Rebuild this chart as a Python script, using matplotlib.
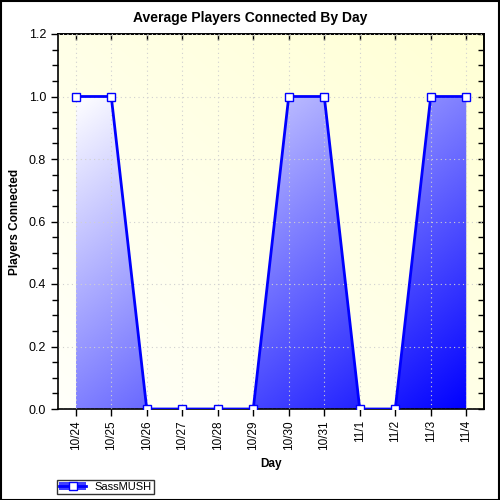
import numpy as np
import matplotlib
matplotlib.use("Agg")
import matplotlib.pyplot as plt
from matplotlib.lines import Line2D
from matplotlib.patches import Patch, Rectangle
from matplotlib.ticker import MultipleLocator, FormatStrFormatter, NullFormatter

days = ["10/24", "10/25", "10/26", "10/27", "10/28", "10/29",
        "10/30", "10/31", "11/1", "11/2", "11/3", "11/4"]
players = [1, 1, 0, 0, 0, 0, 1, 1, 0, 0, 1, 1]
series_name = "SassMUSH"

plt.rcParams['font.family'] = ['Liberation Sans', 'DejaVu Sans']

fig = plt.figure(figsize=(5, 5), dpi=100)
ax = fig.add_axes([0.116, 0.182, 0.852, 0.750])

x = np.arange(len(days))
y = np.array(players, dtype=float)
ax.set_xlim(-0.5, len(days) - 0.5)
ax.set_ylim(0, 1.2)

# background gradient (whitish bottom-left -> light yellow top-right)
gx, gy = np.meshgrid(np.linspace(0, 1, 200), np.linspace(0, 1, 200))
t = (gx + gy) / 2
bg = np.zeros((200, 200, 3))
bg[..., 0] = 1.0
bg[..., 1] = 1.0
bg[..., 2] = (250 - t * 38) / 255
ax.imshow(bg, extent=[-0.5, len(days) - 0.5, 0, 1.2], origin='lower',
          aspect='auto', zorder=0)

# area gradient (white top-left -> blue bottom-right)
poly = ax.fill_between(x, y, 0, color='none', lw=0, zorder=2)
t2 = (gx + (1 - gy)) / 2
fg = np.zeros((200, 200, 3))
fg[..., 0] = 1 - t2
fg[..., 1] = 1 - t2
fg[..., 2] = 1.0
im = ax.imshow(fg, extent=[x[0], x[-1], 0, y.max()], origin='lower',
               aspect='auto', zorder=2)
path = poly.get_paths()[0]
im.set_clip_path(path, transform=ax.transData)

ax.grid(True, which='major', color='#d0d0d0', linestyle=(0, (1, 3)), lw=0.8, zorder=1)
ax.set_axisbelow(False)

ax.plot(x, y, color='#0000ff', lw=2, zorder=3,
        marker='s', markersize=6, markerfacecolor='white',
        markeredgecolor='#0000ff', markeredgewidth=1.0)

ax.set_xticks(x)
ax.set_xticklabels(days, rotation=90, fontsize=8.5)
ax.yaxis.set_major_locator(MultipleLocator(0.2))
ax.yaxis.set_minor_locator(MultipleLocator(0.05))
ax.yaxis.set_major_formatter(FormatStrFormatter('%.1f'))
ax.tick_params(axis='y', labelsize=9)
ax.tick_params(axis='x', direction='out', length=5, width=1, pad=3)
ax.tick_params(axis='y', which='major', direction='out', length=5, width=1)
ax.tick_params(axis='y', which='minor', direction='out', length=4, width=1)

# inward ticks on top and right
top = ax.secondary_xaxis('top')
top.set_xticks(x)
top.xaxis.set_major_formatter(NullFormatter())
top.tick_params(direction='in', length=4, width=1)
right = ax.secondary_yaxis('right')
right.yaxis.set_major_locator(MultipleLocator(0.2))
right.yaxis.set_minor_locator(MultipleLocator(0.05))
right.yaxis.set_major_formatter(NullFormatter())
right.tick_params(which='both', direction='in', length=4, width=1)
for sec in (top, right):
    for s in sec.spines.values():
        s.set_linewidth(1.2)

for s in ax.spines.values():
    s.set_linewidth(1.2)
    s.set_color('black')

ax.set_title("Average Players Connected By Day", fontsize=10, fontweight='bold',
             pad=9, x=(250 - 58) / 426)
ax.set_xlabel("Day", fontsize=8.5, fontweight='bold', labelpad=6)
ax.set_ylabel("Players Connected", fontsize=8.5, fontweight='bold')
ax.yaxis.set_label_coords(-0.088, 0.5)

h = (Patch(facecolor='#4040ff', edgecolor='none'),
     Line2D([], [], color='#0000ff', lw=2, marker='s', markersize=6,
            markerfacecolor='white', markeredgecolor='#0000ff'))
leg = fig.legend([h], [series_name], loc='lower left',
                 bbox_to_anchor=(0.114, 0.012), fontsize=8, frameon=True,
                 fancybox=False, edgecolor='black', handlelength=2.4,
                 borderpad=0.2, handletextpad=0.8, borderaxespad=0)
leg.get_frame().set_linewidth(1.0)

fig.patches.append(Rectangle((0.001, 0.001), 0.997, 0.997, transform=fig.transFigure,
                             fill=False, edgecolor='black', lw=1.5))

fig.savefig("out.png", dpi=100)
